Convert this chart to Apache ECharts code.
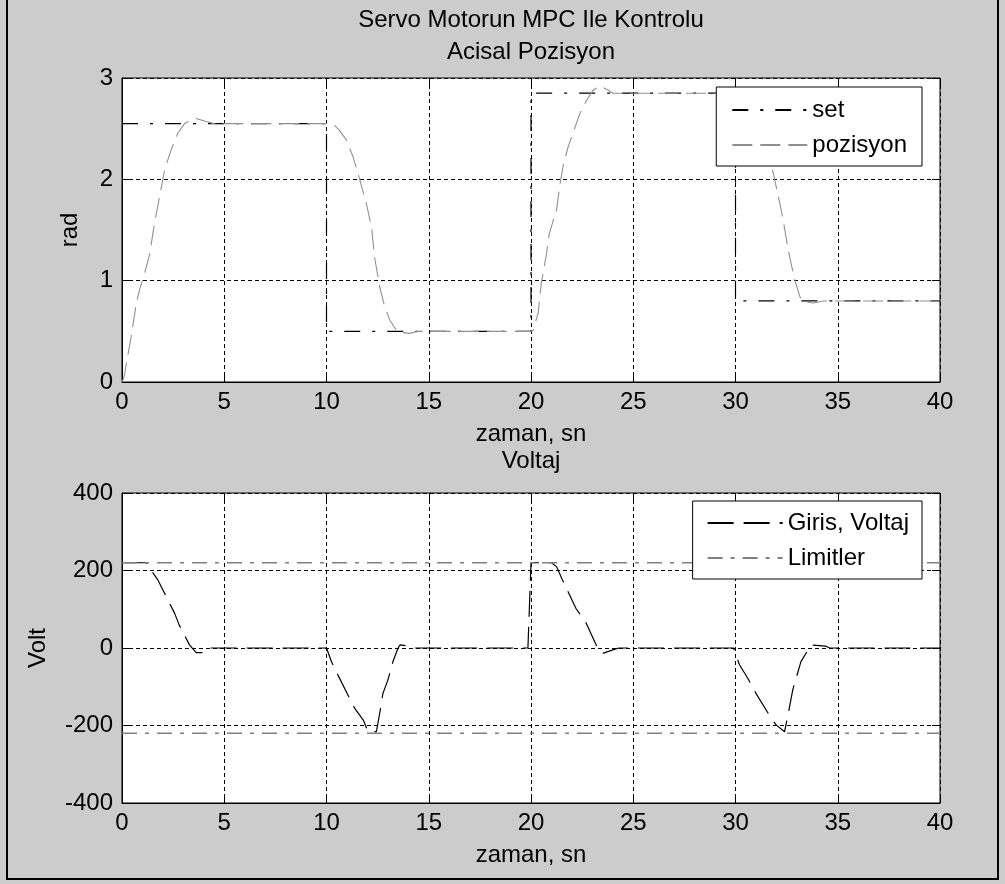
<!DOCTYPE html>
<html>
<head>
<meta charset="utf-8">
<script src="https://cdn.jsdelivr.net/npm/echarts@6/dist/echarts.min.js"></script>
<style>
  html, body { margin: 0; padding: 0; background: #cccccc; }
  #chart { width: 1005px; height: 884px; }
</style>
</head>
<body>
<div id="chart"></div>
<script>
// set point (step reference)
var setT = [0, 10, 10, 20, 20, 30, 30, 40];
var setV = [2.55, 2.55, 0.5, 0.5, 2.85, 2.85, 0.8, 0.8];

// measured angular position
var posT = [0, 0.1, 0.45, 0.7, 0.86, 1.1, 1.35, 1.6, 1.84, 2.08, 2.4, 2.74, 3.06, 3.4, 3.63, 4.1, 4.5, 5, 10,
  10.3, 10.6, 10.97, 11.3, 11.54, 11.95, 12.2, 12.36, 12.6, 12.85, 13.1, 13.35, 13.6, 14.07, 14.5, 15, 20,
  20.1, 20.35, 20.5, 20.76, 20.9, 21.25, 21.4, 21.57, 21.8, 22.06, 22.39, 22.72, 23.04, 23.37, 23.7, 24, 25, 30,
  30.3, 30.6, 30.9, 31.2, 31.5, 31.85, 32.17, 32.33, 32.58, 32.75, 32.9, 33.15, 33.4, 33.8, 34.3, 35, 40];
var posV = [0, 0.05, 0.45, 0.78, 0.91, 1.07, 1.26, 1.58, 1.83, 2.09, 2.29, 2.46, 2.55, 2.59, 2.6, 2.57, 2.55, 2.55, 2.55,
  2.55, 2.49, 2.39, 2.22, 2.06, 1.76, 1.53, 1.22, 0.94, 0.74, 0.61, 0.53, 0.49, 0.48, 0.5, 0.5, 0.5,
  0.51, 0.68, 0.97, 1.27, 1.47, 1.7, 1.93, 2.13, 2.31, 2.46, 2.65, 2.78, 2.88, 2.92, 2.89, 2.85, 2.85, 2.85,
  2.85, 2.82, 2.72, 2.55, 2.35, 2.06, 1.76, 1.6, 1.3, 1.14, 1.01, 0.84, 0.79, 0.78, 0.8, 0.8, 0.8];

// control input voltage
var voltT = [0, 1.2, 1.35, 1.76, 2.33, 2.57, 2.8, 3.3, 3.63, 3.96, 4.2, 10,
  10.24, 10.56, 11.38, 11.8, 12.03, 12.44, 12.6, 12.76, 13.0, 13.25, 13.5, 13.6, 14.07, 14.3, 19.85,
  20.0, 21, 21.25, 21.5, 22.2, 22.7, 23.3, 23.5, 24.0, 24.3, 29.9,
  30.2, 30.6, 31.0, 31.8, 32.0, 32.4, 32.58, 32.8, 33.2, 33.7, 34.4, 34.6, 40];
var voltV = [220, 220, 206, 175, 115, 90, 59, 8, -12, -12, 0, 0,
  -35, -70, -156, -186, -216, -216, -169, -117, -83, -35, 0, 8, 5, 0, 0,
  220, 220, 210, 180, 102, 64, -5, -14, -5, 0, 0,
  -44, -78, -117, -186, -199, -216, -169, -108, -35, 8, 5, 0, 0];

// voltage limits
var limT = [0, 40];
var limUp = [220, 220];
var limDn = [-220, -220];

var xTicks = { min: 0, max: 40, interval: 5 };
var posTicks = { min: 0, max: 3, interval: 1 };
var voltTicks = { min: -400, max: 400, interval: 200 };

function zip(t, v) {
  return t.map(function (x, i) { return [x, v[i]]; });
}

var font = 'Liberation Sans, Arial, sans-serif';
var fs = 24;
var tick = { show: true, inside: true, length: 8, lineStyle: { color: '#000', width: 1 } };

function mainX(grid) {
  return {
    type: 'value', gridIndex: grid, min: xTicks.min, max: xTicks.max, interval: xTicks.interval,
    name: 'zaman, sn', nameLocation: 'middle', nameGap: 40,
    nameTextStyle: { color: '#000', fontSize: fs, fontFamily: font },
    axisLine: { onZero: false, lineStyle: { color: '#000', width: 1 } },
    axisTick: tick,
    axisLabel: { color: '#000', fontSize: fs, fontFamily: font, margin: 8 },
    splitLine: { show: true, lineStyle: { color: '#000', type: [4, 3], width: 1 } }
  };
}
function twinX(grid) {
  return {
    type: 'value', gridIndex: grid, position: 'top', min: xTicks.min, max: xTicks.max, interval: xTicks.interval,
    axisLine: { show: false, onZero: false },
    axisTick: tick,
    axisLabel: { show: false }, splitLine: { show: false }
  };
}
function mainY(grid, ticks, name, gap) {
  return {
    type: 'value', gridIndex: grid, min: ticks.min, max: ticks.max, interval: ticks.interval,
    name: name, nameLocation: 'middle', nameGap: gap,
    nameTextStyle: { color: '#000', fontSize: fs, fontFamily: font },
    axisLine: { show: true, onZero: false, lineStyle: { color: '#000', width: 1 } },
    axisTick: tick,
    axisLabel: { color: '#000', fontSize: fs, fontFamily: font, margin: 9 },
    splitLine: { show: true, lineStyle: { color: '#000', type: [4, 3], width: 1 } }
  };
}
function twinY(grid, ticks) {
  return {
    type: 'value', gridIndex: grid, position: 'right', min: ticks.min, max: ticks.max, interval: ticks.interval,
    axisLine: { show: false, onZero: false },
    axisTick: tick,
    axisLabel: { show: false }, splitLine: { show: false }
  };
}
function legendBox(names, top, padding) {
  return {
    data: names, orient: 'vertical', right: 83, top: top,
    backgroundColor: '#fff', borderColor: '#000', borderWidth: 1, borderRadius: 0,
    padding: padding, itemWidth: 75, itemHeight: 14, itemGap: 11,
    itemStyle: { opacity: 0 },
    textStyle: { color: '#000', fontSize: fs, fontFamily: font, padding: [0, 0, 0, 0] }
  };
}

var chart = echarts.init(document.getElementById('chart'));
chart.setOption({
  backgroundColor: '#cccccc',
  animation: false,
  title: [
    {
      text: 'Servo Motorun MPC Ile Kontrolu\nAcisal Pozisyon', left: 531, top: 4, textAlign: 'center', padding: 0,
      textStyle: { color: '#000', fontSize: fs, fontWeight: 'normal', fontFamily: font, lineHeight: 32 }
    },
    {
      text: 'Voltaj', left: 531, top: 445, textAlign: 'center', padding: 0,
      textStyle: { color: '#000', fontSize: fs, fontWeight: 'normal', fontFamily: font, lineHeight: 32 }
    }
  ],
  legend: [
    legendBox(['set', 'pozisyon'], 87, [11, 15, 9, 15]),
    legendBox(['Giris, Voltaj', 'Limitler'], 501, [10, 13, 9, 14])
  ],
  grid: [
    { left: 122, right: 65, top: 78, height: 304, show: true, backgroundColor: '#fff', borderColor: '#000', borderWidth: 1 },
    { left: 122, right: 65, top: 493, height: 310, show: true, backgroundColor: '#fff', borderColor: '#000', borderWidth: 1 }
  ],
  xAxis: [mainX(0), twinX(0), mainX(1), twinX(1)],
  yAxis: [mainY(0, posTicks, 'rad', 40), twinY(0, posTicks), mainY(1, voltTicks, 'Volt', 72), twinY(1, voltTicks)],
  graphic: [{
    type: 'rect', shape: { x: 7, y: -10, width: 991, height: 889 },
    style: { fill: 'none', stroke: '#000', lineWidth: 2 }, silent: true
  }],
  series: [
    {
      name: 'set', type: 'line', xAxisIndex: 0, yAxisIndex: 0, symbol: 'none',
      data: zip(setT, setV),
      lineStyle: { color: '#000', width: 1.2, type: [16, 12, 3, 12] }
    },
    {
      name: 'pozisyon', type: 'line', xAxisIndex: 0, yAxisIndex: 0, symbol: 'none',
      data: zip(posT, posV),
      lineStyle: { color: '#909090', width: 1.1, type: [20, 8] }
    },
    {
      name: 'Giris, Voltaj', type: 'line', xAxisIndex: 2, yAxisIndex: 2, symbol: 'none',
      data: zip(voltT, voltV),
      lineStyle: { color: '#000', width: 1.2, type: [26, 10] }
    },
    {
      name: 'Limitler', type: 'line', xAxisIndex: 2, yAxisIndex: 2, symbol: 'none',
      data: zip(limT, limUp),
      lineStyle: { color: '#808080', width: 1.3, type: [15, 8, 4, 8] }
    },
    {
      name: 'Limitler', type: 'line', xAxisIndex: 2, yAxisIndex: 2, symbol: 'none',
      data: zip(limT, limDn),
      lineStyle: { color: '#808080', width: 1.3, type: [15, 8, 4, 8] }
    }
  ]
});
</script>
</body>
</html>
